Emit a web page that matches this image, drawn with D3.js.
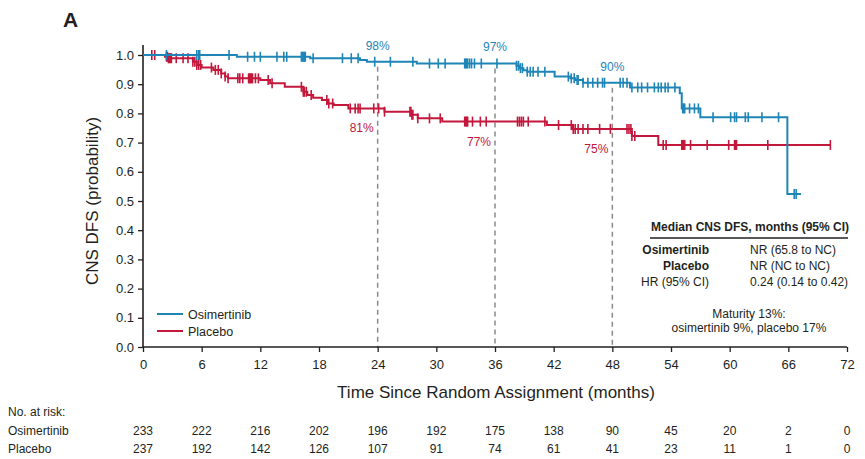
<!DOCTYPE html>
<html>
<head>
<meta charset="utf-8">
<script src="https://cdn.jsdelivr.net/npm/d3@7"></script>
<style>
  body { margin: 0; background: #fff; }
  text { font-family: "Liberation Sans", Arial, sans-serif; fill: #231f20; }
</style>
</head>
<body>
<svg id="chart" width="865" height="459"></svg>
<script>
// step change points [month, probability]
var osiSteps = [[0,1.0],[9.6,0.994],[17.1,0.989],[22.2,0.983],[22.9,0.977],[28,0.971],[38.2,0.963],[38.5,0.955],[38.9,0.948],[39.3,0.943],[42.1,0.926],[43.7,0.92],[44.2,0.914],[45,0.905],[49.8,0.889],[54.9,0.869],[55.1,0.817],[57,0.787],[65.9,0.524]];
var osiEnd = 67.3;
var plaSteps = [[0,1.0],[2.25,0.994],[2.6,0.989],[5.1,0.977],[5.5,0.966],[6.0,0.957],[7.2,0.949],[8.0,0.937],[8.4,0.926],[8.7,0.92],[12,0.914],[13,0.903],[14.5,0.891],[16.4,0.874],[16.8,0.863],[17.4,0.854],[18.3,0.846],[18.9,0.834],[19.5,0.829],[21,0.817],[24.7,0.806],[27.5,0.795],[28.1,0.783],[30.6,0.772],[41.3,0.76],[43.9,0.747],[50,0.723],[52.7,0.692]];
var plaEnd = 70.3;

// censoring times (months)
var osiCensor = [2.4,5.5,5.7,5.8,8.8,10.7,11.4,12.0,13.7,14.4,14.7,16.2,16.3,16.4,16.5,16.6,17.4,20.4,21.3,22.0,23.7,25.3,27.6,29.3,30.2,30.9,32.9,33.0,33.1,33.2,33.4,33.6,33.9,34.6,36.2,38.2,38.4,38.6,38.8,39.3,39.6,39.9,40.4,41.1,43.5,43.8,44.1,44.4,44.5,45.0,45.5,46.0,46.5,47.0,47.2,48.8,49.1,49.5,50.0,50.6,51.0,51.6,52.3,52.7,53.0,53.4,53.7,54.4,55.2,55.3,55.4,55.9,56.4,56.8,58.3,60.1,60.5,60.7,61.6,61.9,63.3,65.0,66.6,66.8];
var plaCensor = [0.9,1.2,2.4,2.5,2.6,2.7,2.8,2.9,3.4,4.1,4.6,5.1,5.3,5.5,5.7,5.9,7.0,7.4,7.7,8.0,8.4,8.7,9.7,9.9,10.2,10.8,10.9,11.0,11.1,11.2,11.5,11.8,12.8,13.2,16.2,16.4,16.5,16.7,17.2,18.8,19.0,19.4,21.2,21.7,22.0,22.2,23.6,24.1,24.7,27.3,27.4,27.5,27.6,28.1,29.3,30.4,32.9,33.0,33.1,33.2,33.7,34.5,35.1,38.3,38.5,38.7,38.9,39.4,41.1,42.5,43.8,44.0,44.2,44.5,45.0,45.5,46.7,47.8,49.5,49.7,49.9,50.0,50.3,53.2,53.5,55.1,55.2,55.3,55.4,56.0,57.7,59.9,60.5,60.6,60.7,63.9,70.3];

var landmarks = [24, 36, 48];
var osiLabels = ["98%", "97%", "90%"];
var plaLabels = ["81%", "77%", "75%"];

var xTicks = [0,6,12,18,24,30,36,42,48,54,60,66,72];
var yTicks = [0,0.1,0.2,0.3,0.4,0.5,0.6,0.7,0.8,0.9,1.0];
var osiRisk = [233,222,216,202,196,192,175,138,90,45,20,2,0];
var plaRisk = [237,192,142,126,107,91,74,61,41,23,11,1,0];

var medianRows = [["Osimertinib","NR (65.8 to NC)",true],["Placebo","NR (NC to NC)",true],["HR (95% CI)","0.24 (0.14 to 0.42)",false]];

var blue = "#1f85b7", red = "#c3173c";

var svg = d3.select("#chart");
var x = d3.scaleLinear().domain([0, 72]).range([143, 847]);
var y = d3.scaleLinear().domain([0, 1]).range([347, 55]);

function valueAt(steps, t) {
    var v = steps[0][1];
    steps.forEach(function (s) { if (s[0] <= t) v = s[1]; });
    return v;
}

// panel letter
svg.append("text").attr("x", 63).attr("y", 27)
    .style("font-size", "21px").style("font-weight", "bold").text("A");

// dashed landmark lines
landmarks.forEach(function (t) {
    svg.append("line")
        .attr("x1", x(t)).attr("x2", x(t))
        .attr("y1", y(valueAt(osiSteps, t)) + 5).attr("y2", y(0))
        .attr("stroke", "#8a8a8a").attr("stroke-width", 1.5)
        .attr("stroke-dasharray", "5,4");
});

// axes
var xAxis = svg.append("g").attr("transform", "translate(0," + y(0) + ")")
    .call(d3.axisBottom(x).tickValues(xTicks).tickSize(5).tickFormat(d3.format("d")));
var yAxis = svg.append("g").attr("transform", "translate(" + x(0) + ",0)")
    .call(d3.axisLeft(y).tickValues(yTicks).tickSize(5).tickFormat(d3.format(".1f")));
[xAxis, yAxis].forEach(function (a) {
    a.select(".domain").remove();
    a.selectAll(".tick line").attr("stroke", "#231f20").attr("stroke-width", 1.3);
    a.selectAll(".tick text").style("font-size", "13px");
});
xAxis.selectAll(".tick text").attr("dy", "1.05em");
yAxis.selectAll(".tick text").attr("x", -9);
svg.append("line").attr("x1", x(0)).attr("x2", x(0)).attr("y1", 45).attr("y2", y(0))
    .attr("stroke", "#231f20").attr("stroke-width", 1.6);
svg.append("line").attr("x1", x(0)).attr("x2", x(72)).attr("y1", y(0)).attr("y2", y(0))
    .attr("stroke", "#231f20").attr("stroke-width", 1.6);

// axis titles
svg.append("text").attr("transform", "translate(98," + y(0.5) + ") rotate(-90)")
    .attr("text-anchor", "middle").style("font-size", "17px").text("CNS DFS (probability)");
svg.append("text").attr("x", 496).attr("y", 398)
    .attr("text-anchor", "middle").style("font-size", "17px").text("Time Since Random Assignment (months)");

// curves
var line = d3.line().x(function (d) { return x(d[0]); }).y(function (d) { return y(d[1]); })
    .curve(d3.curveStepAfter);

function drawArm(steps, end, censor, color) {
    var pts = steps.concat([[end, steps[steps.length - 1][1]]]);
    svg.append("path").datum(pts).attr("d", line)
        .attr("fill", "none").attr("stroke", color).attr("stroke-width", 2);
    svg.append("g").selectAll("line").data(censor).enter().append("line")
        .attr("x1", function (d) { return x(d); }).attr("x2", function (d) { return x(d); })
        .attr("y1", function (d) { return y(valueAt(steps, d)) - 5; })
        .attr("y2", function (d) { return y(valueAt(steps, d)) + 5; })
        .attr("stroke", color).attr("stroke-width", 1.6);
}
drawArm(plaSteps, plaEnd, plaCensor, red);
drawArm(osiSteps, osiEnd, osiCensor, blue);

// landmark percentages
landmarks.forEach(function (t, i) {
    svg.append("text").attr("x", x(t)).attr("y", y(valueAt(osiSteps, t)) - 12)
        .attr("text-anchor", "middle").style("font-size", "12px").style("fill", blue).text(osiLabels[i]);
    svg.append("text").attr("x", x(t) - 16).attr("y", y(valueAt(plaSteps, t)) + 24)
        .attr("text-anchor", "middle").style("font-size", "12px").style("fill", red).text(plaLabels[i]);
});

// legend
[["Osimertinib", blue], ["Placebo", red]].forEach(function (d, i) {
    var ly = 314 + i * 17;
    svg.append("line").attr("x1", 157).attr("x2", 183).attr("y1", ly).attr("y2", ly)
        .attr("stroke", d[1]).attr("stroke-width", 2);
    svg.append("text").attr("x", 188).attr("y", ly + 4.5).style("font-size", "12.5px").text(d[0]);
});

// median table
svg.append("text").attr("x", 750).attr("y", 231).attr("text-anchor", "middle")
    .style("font-size", "12px").style("font-weight", "bold").text("Median CNS DFS, months (95% CI)");
svg.append("line").attr("x1", 650).attr("x2", 848).attr("y1", 238).attr("y2", 238)
    .attr("stroke", "#231f20").attr("stroke-width", 1.5);
medianRows.forEach(function (r, i) {
    var ry = 254 + i * 16.2;
    svg.append("text").attr("x", 709).attr("y", ry).attr("text-anchor", "end")
        .style("font-size", "12px").style("font-weight", r[2] ? "bold" : "normal").text(r[0]);
    svg.append("text").attr("x", 750).attr("y", ry).style("font-size", "12px").text(r[1]);
});
svg.append("text").attr("x", 749).attr("y", 318).attr("text-anchor", "middle")
    .style("font-size", "12px").text("Maturity 13%:");
svg.append("text").attr("x", 749).attr("y", 332).attr("text-anchor", "middle")
    .style("font-size", "12px").text("osimertinib 9%, placebo 17%");

// number at risk
svg.append("text").attr("x", 8).attr("y", 416).style("font-size", "12px").text("No. at risk:");
[["Osimertinib", osiRisk, 435], ["Placebo", plaRisk, 453]].forEach(function (r) {
    svg.append("text").attr("x", 8).attr("y", r[2]).style("font-size", "12px").text(r[0]);
    svg.append("g").selectAll("text").data(r[1]).enter().append("text")
        .attr("x", function (d, i) { return x(xTicks[i]); })
        .attr("y", r[2]).attr("text-anchor", "middle").style("font-size", "12px")
        .text(function (d) { return d; });
});
</script>
</body>
</html>
